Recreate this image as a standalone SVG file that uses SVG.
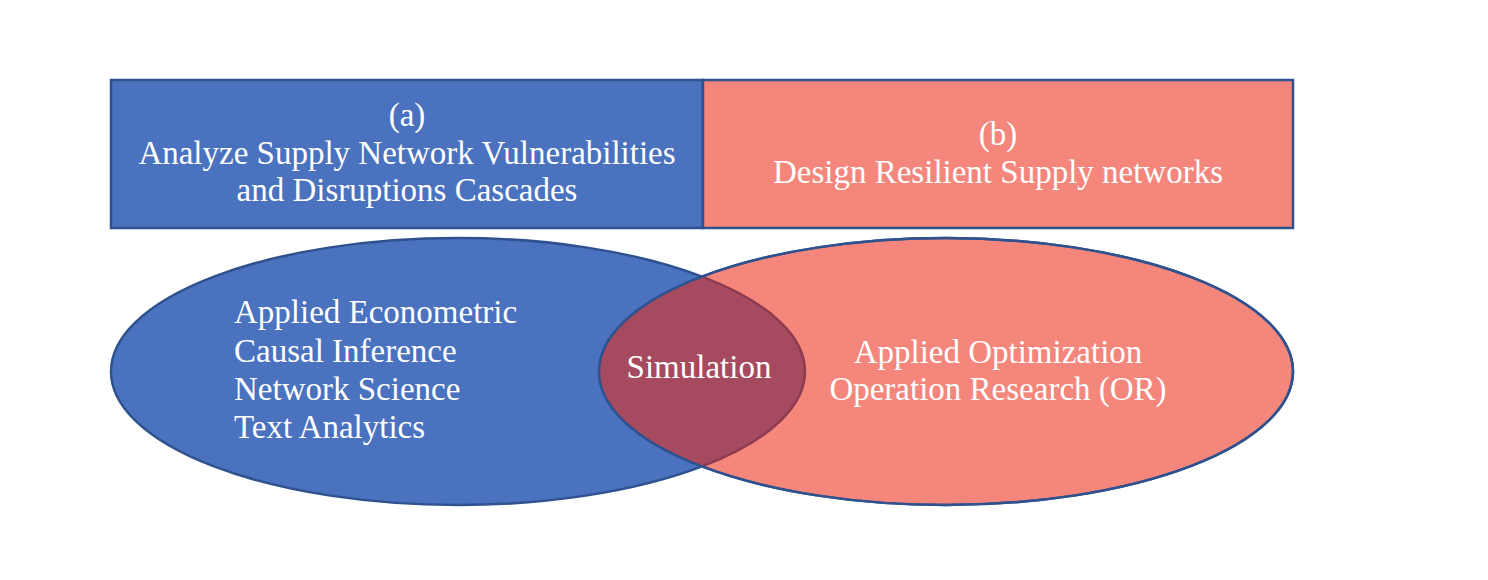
<svg xmlns="http://www.w3.org/2000/svg" width="1488" height="580" viewBox="0 0 1488 580">
  <style>
    .t { font-family: "Liberation Serif", "Times New Roman", serif; font-size: 33px; fill: #ffffff; }
    .c { text-anchor: middle; }
    .blue { fill: #4A72BE; }
    .pink { fill: #F4867C; }
    .edge { stroke: #2F528F; stroke-width: 2.5; }
  </style>
  <defs>
    <clipPath id="pinkClip">
      <ellipse cx="946" cy="371.5" rx="347" ry="133.5"/>
    </clipPath>
  </defs>
  <rect width="1488" height="580" fill="#ffffff"/>

  <g id="box-a">
    <rect x="111" y="80" width="592" height="148" class="blue edge"/>
    <text class="t c" x="407" y="126">(a)</text>
    <text class="t c" x="407" y="164">Analyze Supply Network Vulnerabilities</text>
    <text class="t c" x="407" y="201">and Disruptions Cascades</text>
  </g>

  <g id="box-b">
    <rect x="703" y="80" width="590" height="148" class="pink edge"/>
    <text class="t c" x="998" y="145">(b)</text>
    <text class="t c" x="998" y="183">Design Resilient Supply networks</text>
  </g>

  <g id="ellipse-left">
    <ellipse cx="458" cy="371.5" rx="347" ry="133.5" class="blue edge"/>
  </g>

  <g id="ellipse-right">
    <ellipse cx="946" cy="371.5" rx="347" ry="133.5" class="pink edge"/>
  </g>

  <g id="overlap">
    <ellipse cx="458" cy="371.5" rx="347" ry="133.5" clip-path="url(#pinkClip)" fill="#A64A60" stroke="#8E3A4F" stroke-width="2.5"/>
    <ellipse cx="946" cy="371.5" rx="347" ry="133.5" fill="none" class="edge"/>
    <text class="t c" x="699" y="378">Simulation</text>
  </g>

  <g id="left-labels">
    <text class="t" x="234" y="323">Applied Econometric</text>
    <text class="t" x="234" y="361.5">Causal Inference</text>
    <text class="t" x="234" y="400">Network Science</text>
    <text class="t" x="234" y="438">Text Analytics</text>
  </g>

  <g id="right-labels">
    <text class="t c" x="998" y="362.5">Applied Optimization</text>
    <text class="t c" x="998" y="400">Operation Research (OR)</text>
  </g>
</svg>
